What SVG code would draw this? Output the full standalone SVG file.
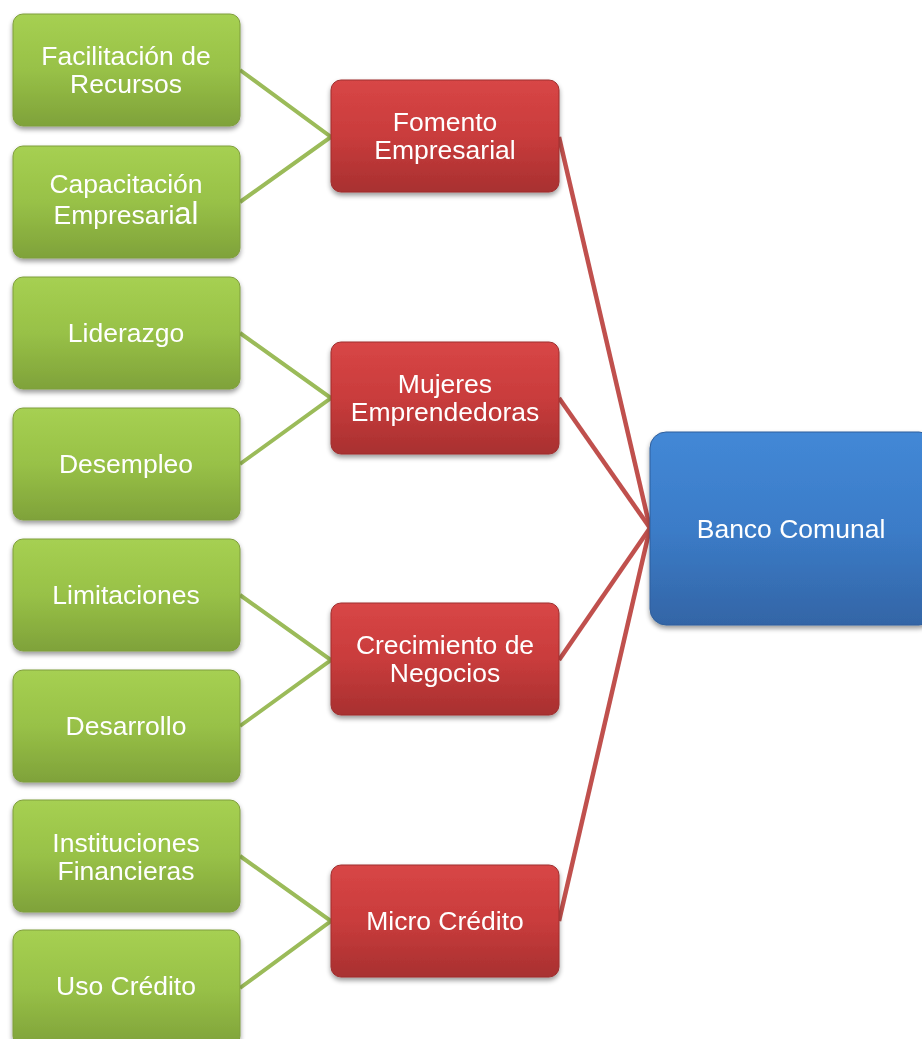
<svg xmlns="http://www.w3.org/2000/svg" width="922" height="1039" viewBox="0 0 922 1039">
<defs>
<linearGradient id="gG" x1="0" y1="0" x2="0" y2="1">
<stop offset="0" stop-color="#a6d052"/><stop offset="0.5" stop-color="#98c147"/><stop offset="1" stop-color="#7fa23a"/>
</linearGradient>
<linearGradient id="gR" x1="0" y1="0" x2="0" y2="1">
<stop offset="0" stop-color="#d84646"/><stop offset="0.5" stop-color="#c93c3c"/><stop offset="1" stop-color="#a83030"/>
</linearGradient>
<linearGradient id="gB" x1="0" y1="0" x2="0" y2="1">
<stop offset="0" stop-color="#4388d6"/><stop offset="0.5" stop-color="#3b7cc8"/><stop offset="1" stop-color="#3365a6"/>
</linearGradient>
<filter id="sh" x="-10%" y="-10%" width="120%" height="130%">
<feGaussianBlur in="SourceAlpha" stdDeviation="2.5"/>
<feOffset dy="3" result="b"/>
<feComponentTransfer><feFuncA type="linear" slope="0.4"/></feComponentTransfer>
<feMerge><feMergeNode/><feMergeNode in="SourceGraphic"/></feMerge>
</filter>
</defs>
<style>
.g{fill:url(#gG);stroke:#7f9e3c;stroke-width:1}
.r{fill:url(#gR);stroke:#9e2f2f;stroke-width:1}
.b{fill:url(#gB);stroke:#2f5f9c;stroke-width:1}
text{font-family:"Liberation Sans",Arial,sans-serif;font-size:26.5px;fill:#ffffff;text-anchor:middle}
.big{font-size:31px}
.gl{stroke:#9bbb59;stroke-width:4;fill:none}
.rl{stroke:#c0504d;stroke-width:4.5;fill:none}
</style>
<g id="connectors">
<polyline class="gl" points="240,70 331,137 240,202"/>
<polyline class="gl" points="240,333 331,398 240,464"/>
<polyline class="gl" points="240,595 331,660 240,726"/>
<polyline class="gl" points="240,856 331,921 240,988"/>
<line class="rl" x1="559" y1="137" x2="650" y2="528"/>
<line class="rl" x1="559" y1="398" x2="650" y2="528"/>
<line class="rl" x1="559" y1="660" x2="650" y2="528"/>
<line class="rl" x1="559" y1="921" x2="650" y2="528"/>
</g>
<g id="n1" filter="url(#sh)"><rect class="g" x="13" y="14" width="227" height="112" rx="10"/><text x="126" y="65">Facilitación de</text><text x="126" y="93">Recursos</text></g>
<g id="n2" filter="url(#sh)"><rect class="g" x="13" y="146" width="227" height="112" rx="10"/><text x="126" y="193">Capacitación</text><text x="126" y="224">Empresari<tspan class="big">al</tspan></text></g>
<g id="n3" filter="url(#sh)"><rect class="g" x="13" y="277" width="227" height="112" rx="10"/><text x="126" y="342">Liderazgo</text></g>
<g id="n4" filter="url(#sh)"><rect class="g" x="13" y="408" width="227" height="112" rx="10"/><text x="126" y="473">Desempleo</text></g>
<g id="n5" filter="url(#sh)"><rect class="g" x="13" y="539" width="227" height="112" rx="10"/><text x="126" y="604">Limitaciones</text></g>
<g id="n6" filter="url(#sh)"><rect class="g" x="13" y="670" width="227" height="112" rx="10"/><text x="126" y="735">Desarrollo</text></g>
<g id="n7" filter="url(#sh)"><rect class="g" x="13" y="800" width="227" height="112" rx="10"/><text x="126" y="852">Instituciones</text><text x="126" y="880">Financieras</text></g>
<g id="n8" filter="url(#sh)"><rect class="g" x="13" y="930" width="227" height="116" rx="10"/><text x="126" y="995">Uso Crédito</text></g>
<g id="f1" filter="url(#sh)"><rect class="r" x="331" y="80" width="228" height="112" rx="10"/><text x="445" y="131">Fomento</text><text x="445" y="159">Empresarial</text></g>
<g id="f2" filter="url(#sh)"><rect class="r" x="331" y="342" width="228" height="112" rx="10"/><text x="445" y="393">Mujeres</text><text x="445" y="421">Emprendedoras</text></g>
<g id="f3" filter="url(#sh)"><rect class="r" x="331" y="603" width="228" height="112" rx="10"/><text x="445" y="654">Crecimiento de</text><text x="445" y="682">Negocios</text></g>
<g id="f4" filter="url(#sh)"><rect class="r" x="331" y="865" width="228" height="112" rx="10"/><text x="445" y="930">Micro Crédito</text></g>
<g id="bank" filter="url(#sh)"><rect class="b" x="650" y="432" width="285" height="193" rx="16"/><text x="791" y="538">Banco Comunal</text></g>
</svg>
